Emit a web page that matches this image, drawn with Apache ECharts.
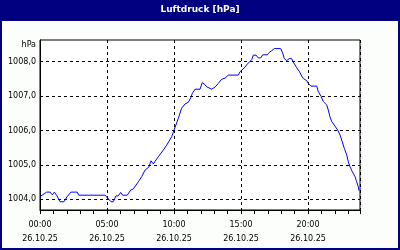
<!DOCTYPE html>
<html>
<head>
<meta charset="utf-8">
<script src="https://cdn.jsdelivr.net/npm/echarts@6/dist/echarts.min.js"></script>
<style>
html,body{margin:0;padding:0;background:#000080;}
#c{width:400px;height:250px;}
</style>
</head>
<body>
<div id="c"></div>
<script>
// ---- data (hours since 00:00 on 26.10.25, pressure in hPa) ----
var hours = [0,0.5,0.75,0.92,1.07,1.27,1.49,1.79,2.01,2.31,2.78,2.89,4.87,5.04,5.30,5.47,5.67,5.84,6.02,6.17,6.51,6.77,6.96,7.34,7.59,7.84,8.13,8.28,8.46,8.83,9.20,9.46,9.57,9.83,10.0,10.32,10.57,10.82,11.07,11.25,11.37,11.57,11.94,12.11,12.26,12.44,12.81,13.06,13.31,13.56,13.81,14.05,14.80,14.93,15.30,15.47,15.80,15.92,16.12,16.29,16.47,16.62,16.96,17.11,17.29,17.49,17.96,18.11,18.23,18.41,18.60,18.78,18.90,19.16,19.35,19.53,19.65,19.90,20.02,20.22,20.65,20.77,20.97,21.14,21.40,21.51,21.64,21.77,22.01,22.22,22.39,22.56,22.71,22.89,23.01,23.13,23.31,23.51,23.63,23.75,23.81];
var pressure = [1004.08,1004.21,1004.21,1004.13,1004.21,1004.10,1003.93,1003.93,1004.07,1004.21,1004.21,1004.12,1004.12,1004.04,1003.93,1003.93,1004.10,1004.10,1004.20,1004.12,1004.12,1004.27,1004.30,1004.51,1004.66,1004.85,1004.94,1005.12,1005.03,1005.24,1005.43,1005.58,1005.63,1005.82,1006.01,1006.35,1006.65,1006.77,1006.82,1006.95,1007.08,1007.20,1007.20,1007.39,1007.35,1007.27,1007.20,1007.26,1007.37,1007.49,1007.52,1007.61,1007.61,1007.71,1007.84,1007.93,1008.06,1008.19,1008.19,1008.11,1008.11,1008.20,1008.20,1008.27,1008.32,1008.38,1008.38,1008.25,1008.09,1008.03,1008.09,1008.09,1007.99,1007.82,1007.72,1007.58,1007.51,1007.45,1007.37,1007.29,1007.29,1007.13,1007.00,1006.84,1006.74,1006.60,1006.40,1006.26,1006.13,1006.01,1005.87,1005.67,1005.48,1005.29,1005.09,1004.95,1004.80,1004.66,1004.51,1004.37,1004.25];

var xTicks = [0, 5, 10, 15, 20];
var xTickLabels = ['00:00', '05:00', '10:00', '15:00', '20:00'];
var dateLabel = '26.10.25';
var yTicks = [1004, 1005, 1006, 1007, 1008];
var titleText = 'Luftdruck [hPa]';
var unitText = 'hPa';

var xMin = 0, xMax = 23.88, yMin = 1003.69, yMax = 1008.63;

var seriesData = hours.map(function (h, i) { return [h, pressure[i]]; });
var FONT = 'DejaVu Sans';

var chart = echarts.init(document.getElementById('c'), null, {renderer: 'canvas'});
chart.setOption({
  animation: false,
  backgroundColor: '#000080',
  graphic: [{
    type: 'rect', z: -10, silent: true,
    shape: {x: 2, y: 21, width: 396, height: 227},
    style: {fill: '#fcfefc'}
  }],
  title: {
    text: titleText, left: 'center', top: 4, padding: 0,
    textStyle: {color: '#ffffff', fontFamily: FONT, fontSize: 9, fontWeight: 'bold', lineHeight: 11}
  },
  grid: {
    left: 40, right: 40, top: 40, bottom: 40,
    show: true, backgroundColor: '#ffffff', borderColor: '#000000', borderWidth: 1
  },
  xAxis: [{
    type: 'value', min: xMin, max: xMax, interval: 5, position: 'bottom',
    axisLine: {show: true, lineStyle: {color: '#000', width: 1}},
    axisTick: {show: false},
    axisLabel: {
      show: true, margin: 8, color: '#000', fontFamily: FONT, fontSize: 8, lineHeight: 14,
      showMaxLabel: false,
      formatter: function (v) {
        var i = xTicks.indexOf(v);
        return i >= 0 ? xTickLabels[i] + '\n' + dateLabel : '';
      }
    },
    splitLine: {show: true, lineStyle: {color: '#000', width: 1, type: [3, 3]}}
  }, {
    type: 'value', min: xMin, max: xMax, interval: 1, position: 'bottom',
    axisLine: {show: false},
    axisTick: {show: true, length: 4, lineStyle: {color: '#000', width: 1}},
    axisLabel: {show: false},
    splitLine: {show: false}
  }],
  yAxis: {
    type: 'value', min: yMin, max: yMax,
    name: unitText, nameLocation: 'end', nameGap: -5,
    nameTextStyle: {color: '#000', fontFamily: FONT, fontSize: 8, align: 'right', verticalAlign: 'middle', padding: [0, 4, 0, 0]},
    axisLine: {show: true, lineStyle: {color: '#000', width: 1}},
    axisTick: {show: false, customValues: yTicks},
    axisLabel: {
      show: true, margin: 4, color: '#000', fontFamily: FONT, fontSize: 8,
      customValues: yTicks,
      formatter: function (v) { return v.toFixed(1).replace('.', ','); }
    },
    splitLine: {show: true, lineStyle: {color: '#000', width: 1, type: [3, 3]}}
  },
  series: [{
    type: 'line', xAxisIndex: 0, yAxisIndex: 0,
    data: seriesData, showSymbol: false, symbol: 'none',
    lineStyle: {color: '#0000ff', width: 1}
  }]
});
</script>
</body>
</html>
